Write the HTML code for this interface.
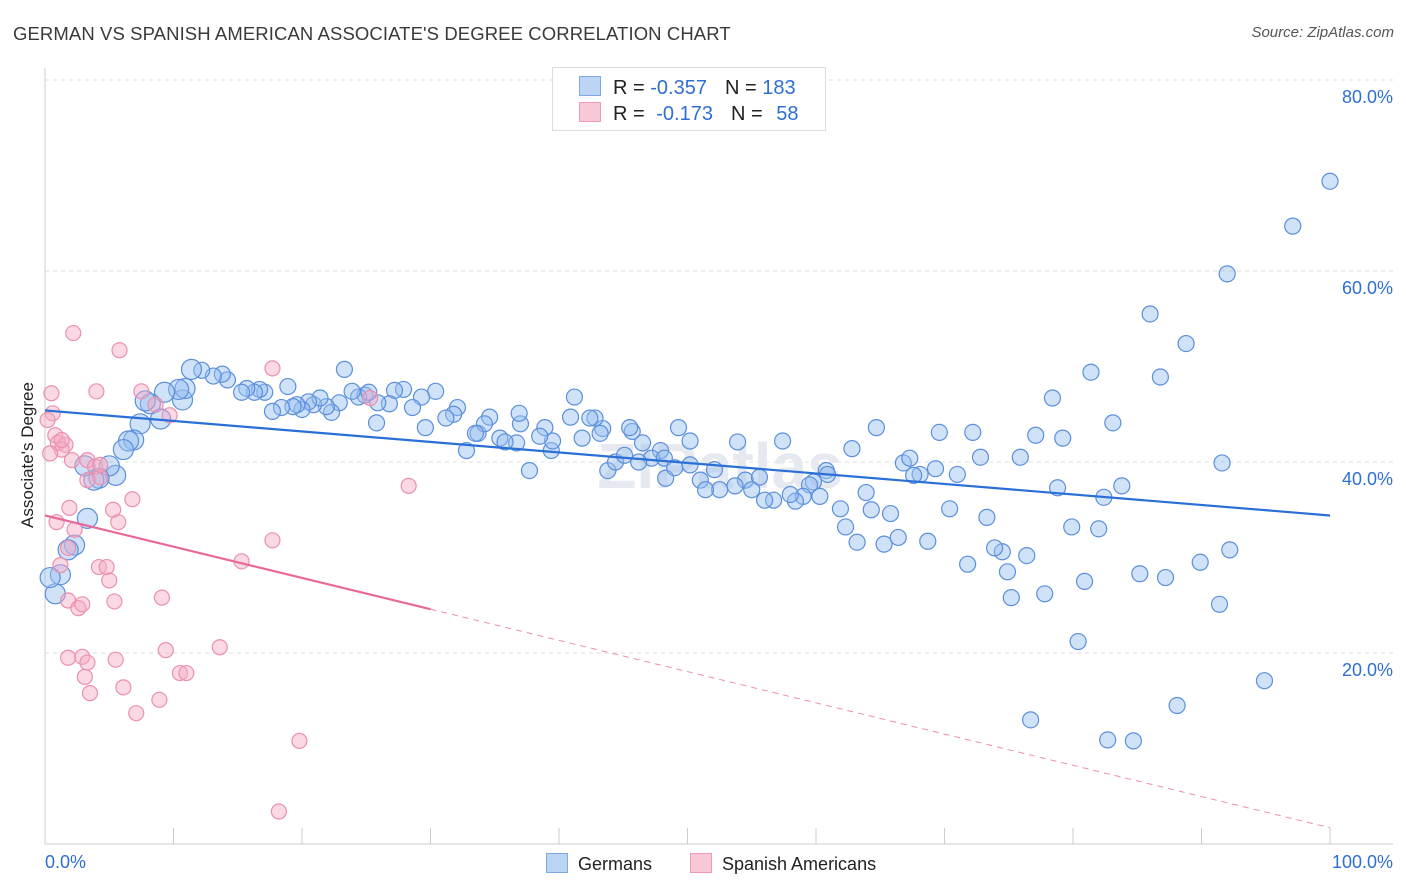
<!DOCTYPE html>
<html><head><meta charset="utf-8"><style>
body{margin:0;background:#fff;font-family:"Liberation Sans",sans-serif;}
#wrap{position:relative;width:1406px;height:892px;overflow:hidden;}
.t{position:absolute;white-space:nowrap;}
</style></head><body>
<div id="wrap">
<div class="t" style="left:13px;top:23px;font-size:18.5px;letter-spacing:0.1px;color:#3a3a3a;">GERMAN VS SPANISH AMERICAN ASSOCIATE'S DEGREE CORRELATION CHART</div>
<div class="t" style="right:12px;top:24px;font-size:15px;color:#555;font-style:italic;">Source: ZipAtlas.com</div>
<svg id="plot" width="1406" height="892" style="position:absolute;left:0;top:0"></svg>
<div class="t" style="left:552px;top:67px;width:272px;height:62px;border:1px solid #ddd;background:#fff;font-size:20px;color:#222;">
 <div style="position:absolute;left:26px;top:8px;"><span style="display:inline-block;width:20px;height:18px;background:#bcd5f5;border:1px solid #7fa9e6;vertical-align:-2px;"></span><span style="margin-left:12px;">R = </span><span style="color:#2f6fd0;">-0.357</span><span style="margin-left:18px;">N = </span><span style="color:#2f6fd0;">183</span></div>
 <div style="position:absolute;left:26px;top:34px;"><span style="display:inline-block;width:20px;height:18px;background:#f9c8d6;border:1px solid #ee9ab5;vertical-align:-2px;"></span><span style="margin-left:12px;">R = </span><span style="color:#2f6fd0;margin-left:6px;">-0.173</span><span style="margin-left:18px;">N = </span><span style="color:#2f6fd0;margin-left:8px;">58</span></div>
</div>
<div class="t" style="left:28px;top:455px;font-size:17px;color:#222;transform:translate(-50%,-50%) rotate(-90deg);">Associate's Degree</div>
<div class="t" style="left:45px;top:852px;font-size:18px;color:#2f6fd0;">0.0%</div>
<div class="t" style="right:13px;top:852px;font-size:18px;color:#2f6fd0;">100.0%</div>
<div class="t" style="left:546px;top:853px;font-size:18px;color:#222;"><span style="display:inline-block;width:20px;height:18px;background:#bcd5f5;border:1px solid #7fa9e6;vertical-align:-3px;margin-right:10px;"></span>Germans</div>
<div class="t" style="left:690px;top:853px;font-size:18px;color:#222;"><span style="display:inline-block;width:20px;height:18px;background:#f9c8d6;border:1px solid #ee9ab5;vertical-align:-3px;margin-right:10px;"></span>Spanish Americans</div>
</div>
<script>
const yTicks=[20,40,60,80];
const yTickLabels=["20.0%","40.0%","60.0%","80.0%"];
const xTicks=[0,10,20,30,40,50,60,70,80,90,100];
const germanX=[100.0,97.1,92.0,86.0,88.8,81.4,86.8,78.4,83.1,83.8,82.4,78.8,77.1,79.2,75.9,72.2,69.6,72.8,91.6,92.2,89.9,91.4,94.9,88.1,85.2,87.2,80.9,77.8,75.2,76.7,82.7,84.7,80.4,79.9,82.0,76.4,74.5,73.9,74.9,71.8,73.3,70.4,69.3,68.7,71.0,68.1,67.6,66.8,67.3,64.7,63.9,64.3,62.8,62.3,63.2,65.3,66.4,65.8,61.9,60.8,60.9,59.8,59.5,59.0,60.3,58.4,58.0,56.7,57.4,53.9,50.2,49.3,47.9,46.5,45.7,47.2,48.2,48.3,46.2,43.8,44.4,45.1,43.4,42.8,42.4,41.8,40.9,41.2,39.4,39.5,37.7,38.9,38.5,36.7,37.0,36.9,35.4,35.8,34.6,32.8,33.7,34.2,33.5,32.1,31.8,31.2,30.4,29.3,29.6,28.6,27.9,27.2,26.8,25.9,25.8,24.9,24.4,25.2,23.9,23.3,22.9,22.3,21.9,20.9,21.4,20.5,20.0,19.6,19.3,18.9,18.4,17.7,17.1,16.7,16.3,15.7,15.3,14.2,13.8,13.1,12.2,11.4,10.7,10.9,10.4,9.3,9.0,8.2,7.8,7.4,6.9,6.5,6.1,5.5,5.0,4.2,3.8,3.1,3.3,2.3,1.8,1.2,0.8,0.4,51.0,52.1,52.5,51.4,54.5,56.0,55.6,55.0,53.7,50.2,49.0,45.5,43.2];
const germanY=[69.4,64.7,59.7,55.5,52.4,49.4,48.9,46.7,44.1,37.5,36.3,37.3,42.8,42.5,40.5,43.1,43.1,40.5,39.9,30.8,29.5,25.1,17.1,14.5,28.3,27.9,27.5,26.2,25.8,13.0,10.9,10.8,21.2,33.2,33.0,30.2,30.6,31.0,28.5,29.3,34.2,35.1,39.3,31.7,38.7,38.7,38.6,39.9,40.4,43.6,36.8,35.0,41.4,33.2,31.6,31.4,32.1,34.6,35.1,39.1,38.7,37.9,37.6,36.4,36.4,35.9,36.6,36.0,42.2,42.1,42.2,43.6,41.2,42.0,43.2,40.4,40.4,38.3,40.0,39.1,40.0,40.7,43.5,44.6,44.6,42.5,44.7,46.8,41.2,42.2,39.1,43.6,42.7,42.0,44.0,45.1,42.5,42.1,44.7,41.2,43.0,44.0,43.0,45.7,45.0,44.6,47.4,46.8,43.6,45.7,47.6,47.5,46.1,46.2,44.1,47.0,46.8,47.3,47.4,49.7,46.2,45.2,45.8,46.0,46.7,46.3,45.5,46.0,45.8,47.9,45.7,45.3,47.3,47.6,47.3,47.7,47.3,48.6,49.2,49.0,49.6,49.7,46.5,47.7,47.6,47.3,44.5,46.1,46.4,44.0,42.3,42.2,41.3,38.6,39.6,38.3,38.1,39.6,34.1,31.3,30.8,28.2,26.2,27.9,38.1,39.2,37.1,37.1,38.1,36.0,38.4,37.1,37.5,39.7,39.4,43.6,43.0];
const spanishX=[2.2,5.8,17.7,4.0,7.5,0.5,0.6,8.6,9.7,0.2,0.8,1.0,1.6,1.3,0.4,2.1,3.3,3.9,4.3,3.3,6.8,5.3,5.7,0.9,1.8,1.2,4.2,4.8,5.0,5.4,1.8,2.6,2.9,9.1,15.3,17.7,28.3,25.3,9.4,13.6,1.8,2.9,3.3,3.1,5.5,6.1,10.5,11.0,3.5,7.1,8.9,19.8,18.2,1.9,2.3,4.3,1.3];
const spanishY=[53.5,51.7,49.8,47.4,47.4,47.2,45.1,46.0,44.9,44.4,42.8,42.0,41.8,41.3,40.9,40.2,40.2,39.5,38.4,38.1,36.1,35.0,33.7,33.7,31.0,29.2,29.0,29.0,27.6,25.4,25.5,24.7,25.1,25.8,29.6,31.8,37.5,46.7,20.3,20.6,19.5,19.6,19.0,17.5,19.3,16.4,17.9,17.9,15.8,13.7,15.1,10.8,3.4,35.2,32.9,39.7,42.3];
const germanTrend=[45.4,34.4];
const spanishTrend=[34.4,1.7];
const spanishSolidEnd=30;

const NS="http://www.w3.org/2000/svg";
const svg=document.getElementById('plot');
const X=v=>45+v*12.85;
const Y=v=>844-v*9.55;
function mk(tag,attrs,name){const e=document.createElementNS(NS,tag);for(const k in attrs)e.setAttribute(k,attrs[k]);


svg.appendChild(e);return e;}
yTicks.forEach((t,i)=>{
 mk('line',{x1:45,x2:1393,y1:Y(t),y2:Y(t),stroke:'#ddd','stroke-dasharray':'4,4'},'gridline-'+t);
 const tx=mk('text',{x:1393,y:Y(t)+23,'text-anchor':'end','font-size':18,fill:'#2f6fd0','font-family':'Liberation Sans, sans-serif'},'y-tick-label-'+t);
 tx.textContent=yTickLabels[i];
});
mk('line',{x1:45,x2:1393,y1:80,y2:80,stroke:'#ddd','stroke-dasharray':'4,4'},'gridline-top');
mk('line',{x1:45,x2:45,y1:68,y2:844,stroke:'#ccc'},'y-axis-line');
mk('line',{x1:45,x2:1393,y1:844,y2:844,stroke:'#ccc'},'x-axis-line');
xTicks.forEach(t=>{mk('line',{x1:X(t),x2:X(t),y1:828,y2:844,stroke:'#ccc'},'x-tick-'+t);});
const wm=mk('text',{x:720,y:488,'text-anchor':'middle','font-size':64,fill:'#e6e9ef','font-family':'Liberation Sans, sans-serif','font-weight':'bold'},'watermark');
wm.textContent='ZIPatlas';
germanX.forEach((v,i)=>{mk('circle',{cx:X(v),cy:Y(germanY[i]),r:v<12?10:8,fill:'rgba(150,190,240,0.45)',stroke:'#5b8fdc','stroke-width':1.2},'german-point');});
spanishX.forEach((v,i)=>{mk('circle',{cx:X(v),cy:Y(spanishY[i]),r:7.5,fill:'rgba(245,170,195,0.45)',stroke:'#eb8fae','stroke-width':1.2},'spanish-point');});
mk('line',{x1:X(0),y1:Y(germanTrend[0]),x2:X(100),y2:Y(germanTrend[1]),stroke:'#2a6fd6','stroke-width':2.2},'german-trend-line');
const sAt=x=>spanishTrend[0]+(spanishTrend[1]-spanishTrend[0])*x/100;
mk('line',{x1:X(0),y1:Y(sAt(0)),x2:X(spanishSolidEnd),y2:Y(sAt(spanishSolidEnd)),stroke:'#e8689a','stroke-width':2.2},'spanish-trend-line');
mk('line',{x1:X(spanishSolidEnd),y1:Y(sAt(spanishSolidEnd)),x2:X(100),y2:Y(sAt(100)),stroke:'#eb8fae','stroke-width':1,'stroke-dasharray':'6,5'},'spanish-trend-extension');
</script>
</body></html>
